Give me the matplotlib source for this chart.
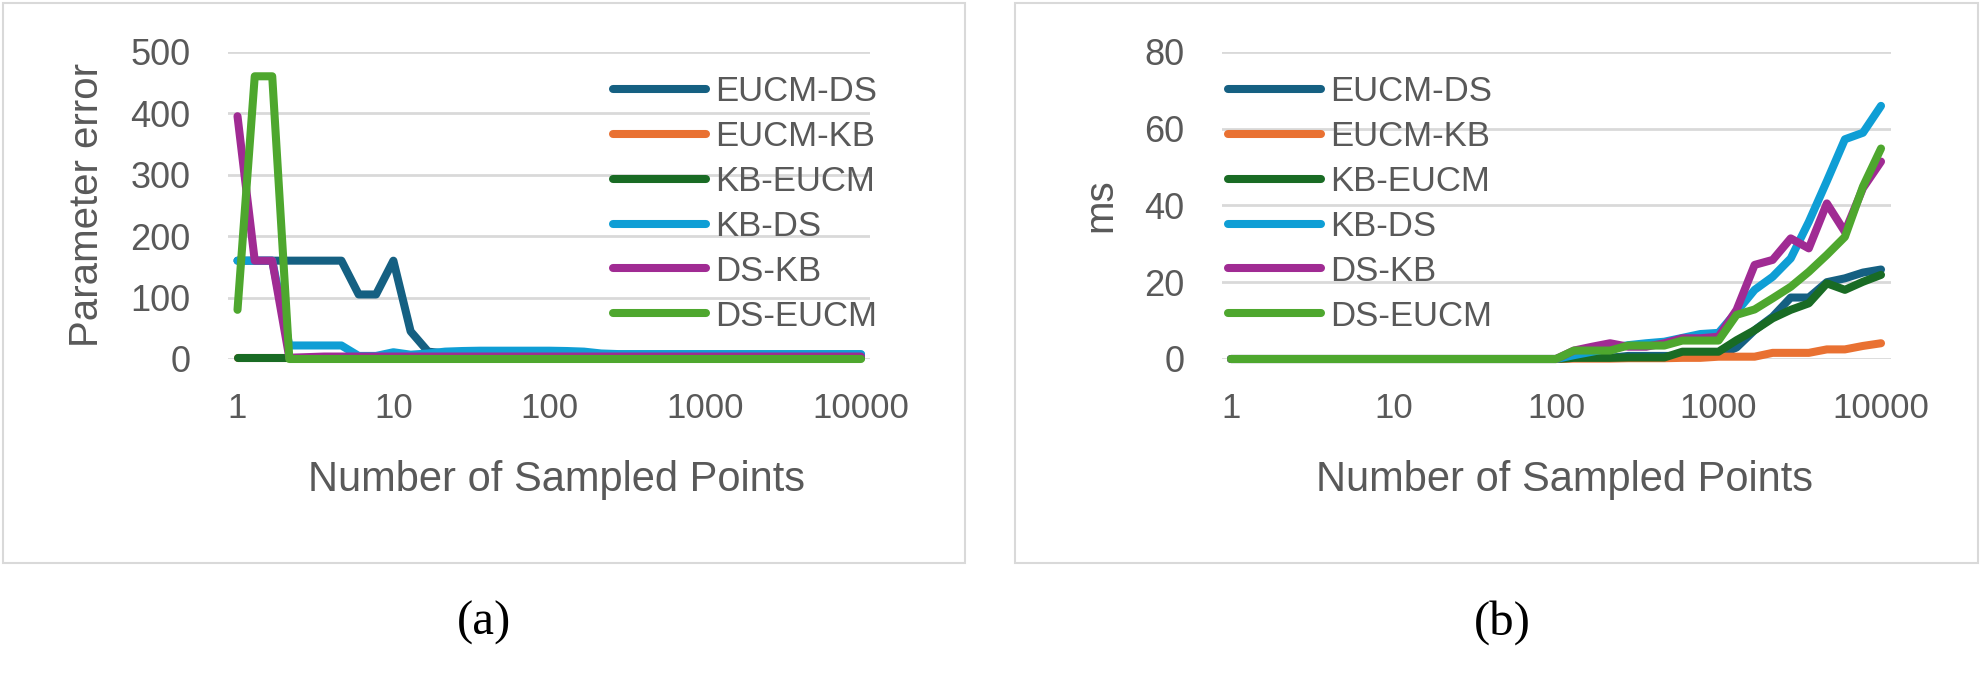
import numpy as np
import matplotlib
matplotlib.use('Agg')
import matplotlib.pyplot as plt
from matplotlib.patches import Rectangle
from matplotlib.ticker import NullLocator

plt.rcParams['font.family'] = ['Liberation Sans', 'DejaVu Sans']

# sampled point counts (9 per decade)
n_points = [1, 1.29, 1.67, 2.15, 2.78, 3.59, 4.64, 5.99, 7.74,
            10, 12.9, 16.7, 21.5, 27.8, 35.9, 46.4, 59.9, 77.4,
            100, 129, 167, 215, 278, 359, 464, 599, 774,
            1000, 1292, 1668, 2154, 2783, 3594, 4642, 5995, 7743, 10000]

names = ['EUCM-DS', 'EUCM-KB', 'KB-EUCM', 'KB-DS', 'DS-KB', 'DS-EUCM']
colors = ['#156082', '#E97132', '#196B24', '#0F9ED5', '#A02B93', '#4EA72E']

# (a) parameter error
err_eucm_ds = [160, 160, 160, 160, 160, 160, 160, 105, 105, 160, 45, 12, 9, 9, 9, 9, 8, 8, 8,
               8, 8, 8, 7, 7, 7, 7, 7, 7, 7, 7, 7, 7, 7, 7, 7, 7, 7]
err_eucm_kb = [1, 1, 1, 1, 1, 1, 1, 1, 1, 1, 1, 1, 1, 1, 1, 1, 1, 1, 1,
               1, 1, 1, 1, 1, 1, 1, 1, 1, 1, 1, 1, 1, 1, 1, 1, 1, 1]
err_kb_eucm = [1, 1, 1, 1, 1, 1, 1, 1, 1, 1, 1, 1, 1, 1, 1, 1, 1, 1, 1,
               1, 1, 1, 1, 1, 1, 1, 1, 1, 1, 1, 1, 1, 1, 1, 1, 1, 1]
err_kb_ds = [160, 160, 160, 22, 22, 22, 22, 5, 5, 11, 7, 9, 12, 13, 13.5, 13.5, 13.5, 13.5, 13.5,
             13, 12, 9, 8, 8, 8, 8, 8, 8, 8, 8, 8, 8, 8, 8, 8, 8, 8]
err_ds_kb = [395, 160, 160, 2, 3, 4, 4, 4, 4, 4, 4, 4, 4, 4, 4, 4, 4, 4, 4,
             4, 4, 4, 4, 4, 4, 4, 4, 4, 4, 4, 4, 4, 4, 4, 4, 4, 4]
err_ds_eucm = [80, 460, 460, 0, 0, 0, 0, 0, 0, 0, 0, 0, 0, 0, 0, 0, 0, 0, 0,
               0, 0, 0, 0, 0, 0, 0, 0, 0, 0, 0, 0, 0, 0, 0, 0, 0, 0]

# (b) runtime in ms
zeros19 = [0] * 19
ms_eucm_ds = zeros19 + [0.3, 0.3, 0.3, 0.8, 0.8, 0.8, 0.8, 0.8, 1,
                        3, 7.5, 11, 16, 16, 20, 21, 22.5, 23.3]
ms_eucm_kb = zeros19 + [0.1, 0.1, 0.1, 0.2, 0.2, 0.2, 0.3, 0.3, 0.6,
                        0.6, 0.6, 1.6, 1.6, 1.6, 2.5, 2.5, 3.4, 4.1]
ms_kb_eucm = zeros19 + [0.3, 0.3, 0.3, 0.4, 0.4, 0.4, 1.9, 1.9, 1.9,
                        4.9, 7.5, 10.6, 12.8, 14.5, 19.7, 18, 20.1, 21.9]
ms_kb_ds = zeros19 + [1.0, 1.9, 2.8, 3.6, 4.1, 4.5, 5.5, 6.5, 6.8,
                      12.3, 18, 21.4, 26.2, 35.7, 46.3, 57.2, 58.9, 65.9]
ms_ds_kb = zeros19 + [2.2, 3.2, 4.1, 3.2, 3.2, 4.1, 5.4, 5.4, 5.8,
                      12.8, 24.5, 25.8, 31.4, 28.8, 40.5, 33.1, 44.5, 51.4]
ms_ds_eucm = zeros19 + [2.2, 2.2, 2.2, 3.5, 3.5, 3.5, 4.8, 4.8, 4.8,
                        11.5, 12.9, 15.8, 18.8, 22.7, 27.1, 31.8, 44.9, 54.8]

x_ticks = [1, 10, 100, 1000, 10000]
x_ticklabels = ['1', '10', '100', '1000', '10000']

W, H = 1982, 680
fig = plt.figure(figsize=(W / 100, H / 100), dpi=100)
text_gray = '#595959'


def panel(rect_px, series, ymax, ystep, ylabel, xlim, ylab_x, leg_px):
    x0, x1, ytop, ybot = rect_px
    ax = fig.add_axes([x0 / W, 1 - ybot / H, (x1 - x0) / W, (ybot - ytop) / H])
    for vals, name, c in zip(series, names, colors):
        ax.plot(n_points, vals, color=c, lw=5.8, label=name, clip_on=False,
                solid_capstyle='round', solid_joinstyle='round')
    ax.set_xscale('log')
    ax.set_xlim(*xlim)
    ax.set_ylim(0, ymax)
    ax.set_xticks(x_ticks)
    ax.set_xticklabels(x_ticklabels)
    ax.xaxis.set_minor_locator(NullLocator())
    ax.set_yticks(np.arange(0, ymax + 1, ystep))
    ax.yaxis.grid(True, color='#d9d9d9', lw=2)
    ax.set_axisbelow(True)
    for s in ax.spines.values():
        s.set_visible(False)
    ax.tick_params(axis='both', length=0, colors=text_gray)
    ax.tick_params(axis='y', pad=27, labelsize=26)
    ax.tick_params(axis='x', pad=24, labelsize=25)
    ax.set_xlabel('Number of Sampled Points', fontsize=30, color=text_gray)
    ax.set_ylabel(ylabel, fontsize=29, color=text_gray)
    ax.xaxis.set_label_coords(0.512, (ybot - 480) / (ybot - ytop))
    ax.xaxis.label.set_va('center')
    ax.yaxis.set_label_coords((ylab_x - x0) / (x1 - x0), 0.5)
    ax.yaxis.label.set_va('center')
    ax.legend(loc='upper left', bbox_to_anchor=(leg_px[0] / W, 1 - leg_px[1] / H),
              bbox_transform=fig.transFigure, frameon=False, fontsize=25,
              labelcolor=text_gray, handlelength=2.68, handletextpad=0.26,
              labelspacing=0.343, borderpad=0, borderaxespad=0)
    return ax


panel((228, 870, 51.7, 359),
      [err_eucm_ds, err_eucm_kb, err_kb_eucm, err_kb_ds, err_ds_kb, err_ds_eucm],
      500, 100, 'Parameter error', (0.869, 11420), 87, (613, 75))
panel((1222, 1891, 51.7, 359),
      [ms_eucm_ds, ms_eucm_kb, ms_kb_eucm, ms_kb_ds, ms_ds_kb, ms_ds_eucm],
      80, 20, 'ms', (0.88, 11520), 1100, (1228, 75))

# chart area borders
for bx0, bx1 in [(3, 965), (1015, 1978)]:
    fig.add_artist(Rectangle((bx0 / W, 1 - 563 / H), (bx1 - bx0) / W, 560 / H,
                             transform=fig.transFigure, fill=False,
                             ec='#d9d9d9', lw=1.5))

fig.text(484 / W, 1 - 623 / H, '(a)', family='Liberation Serif', fontsize=35,
         ha='center', va='center', color='black')
fig.text(1502 / W, 1 - 623 / H, '(b)', family='Liberation Serif', fontsize=35,
         ha='center', va='center', color='black')

fig.savefig('out.png', dpi=100)
